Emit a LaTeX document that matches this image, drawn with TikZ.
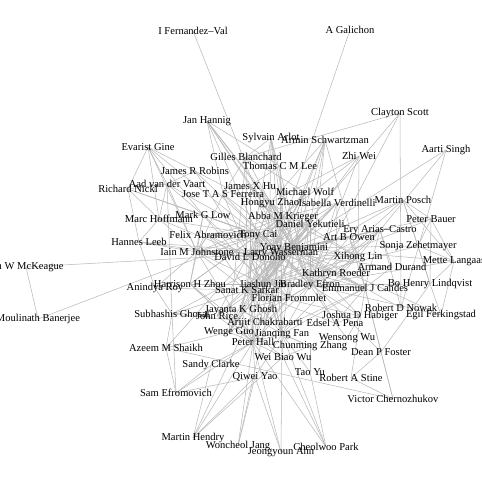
\documentclass[tikz,border=0pt]{standalone}
\usepackage{fontspec}
\setmainfont{Liberation Serif}
\usetikzlibrary{backgrounds}

\begin{document}
\begin{tikzpicture}[
    x=0.03cm, y=-0.03cm,
    author/.style={font=\fontsize{9}{10}\selectfont, inner sep=0pt},
    edge/.style={draw=black!28, line width=0.45pt},
  ]
    \useasboundingbox (0,0) rectangle (482,482);
    % outer ring
    \node[author] (fv)   at (193,31)  {I Fernandez–Val};
    \node[author] (gal)  at (350,30)  {A Galichon};
    \node[author] (han)  at (207,121) {Jan Hannig};
    \node[author] (sco)  at (400,113) {Clayton Scott};
    \node[author] (gin)  at (148,147) {Evarist Gine};
    \node[author] (sin)  at (446,150) {Aarti Singh};
    \node[author] (arl)  at (271,138) {Sylvain Arlot};
    \node[author] (sch)  at (325,140) {Armin Schwartzman};
    \node[author] (bla)  at (246,157) {Gilles Blanchard};
    \node[author] (lee)  at (280,166) {Thomas C M Lee};
    \node[author] (wei)  at (359,156) {Zhi Wei};
    \node[author] (rob)  at (195,171) {James R Robins};
    \node[author] (vaa)  at (167,184) {Aad van der Vaart};
    \node[author] (nic)  at (128,189) {Richard Nickl};
    \node[author] (hu)   at (250,186) {James X Hu};
    \node[author] (fer)  at (223,194) {Jose T A S Ferreira};
    \node[author] (wol)  at (305,192) {Michael Wolf};
    \node[author] (zha)  at (270,203) {Hongyu Zhao};
    \node[author] (ver)  at (337,203) {Isabella Verdinelli};
    \node[author] (pos)  at (403,200) {Martin Posch};
    \node[author] (hof)  at (159,219) {Marc Hoffmann};
    \node[author] (low)  at (203,215) {Mark G Low};
    \node[author] (kri)  at (283,217) {Abba M Krieger};
    \node[author] (yek)  at (310,224) {Daniel Yekutieli};
    \node[author] (bau)  at (431,219) {Peter Bauer};
    \node[author] (ari)  at (380,230) {Ery Arias–Castro};
    \node[author] (leeb) at (139,242) {Hannes Leeb};
    \node[author] (abr)  at (208,235) {Felix Abramovich};
    \node[author] (cai)  at (258,235) {Tony Cai};
    \node[author] (owe)  at (349,237) {Art B Owen};
    \node[author] (zeh)  at (418,246) {Sonja Zehetmayer};
    \node[author] (ben)  at (294,248) {Yoav Benjamini};
    \node[author] (joh)  at (197,252) {Iain M Johnstone};
    \node[author] (was)  at (281,253) {Larry Wasserman};
    \node[author] (don)  at (250,257) {David L Donoho};
    \node[author] (lin)  at (358,257) {Xihong Lin};
    \node[author] (lan)  at (454,261) {Mette Langaas};
    \node[author] (dur)  at (392,267) {Armand Durand};
    \node[author] (mck)  at (26,267)  {Ian W McKeague};
    \node[author] (roe)  at (336,274) {Kathryn Roeder};
    \node[author] (ban)  at (38,319)  {Moulinath Banerjee};
    \node[author] (roy)  at (155,288) {Anindya Roy};
    \node[author] (zho)  at (190,284) {Harrison H Zhou};
    \node[author] (lind) at (430,284) {Bo Henry Lindqvist};
    \node[author] (can)  at (365,288) {Emmanuel J Candes};
    \node[author] (efr)  at (310,285) {Bradley Efron};
    \node[author] (jin)  at (263,284) {Jiashun Jin};
    \node[author] (sar)  at (247,290) {Sanat K Sarkar};
    \node[author] (fro)  at (289,298) {Florian Frommlet};
    \node[author] (gho)  at (172,314) {Subhashis Ghosal};
    \node[author] (jkg)  at (241,310) {Jayanta K Ghosh};
    \node[author] (ric)  at (217,316) {John Rice};
    \node[author] (now)  at (401,308) {Robert D Nowak};
    \node[author] (fek)  at (441,315) {Egil Ferkingstad};
    \node[author] (hab)  at (360,316) {Joshua D Habiger};
    \node[author] (cha)  at (265,323) {Arijit Chakrabarti};
    \node[author] (pen)  at (335,323) {Edsel A Pena};
    \node[author] (guo)  at (229,332) {Wenge Guo};
    \node[author] (fan)  at (282,334) {Jianqing Fan};
    \node[author] (hal)  at (253,342) {Peter Hall};
    \node[author] (wu)   at (347,338) {Wensong Wu};
    \node[author] (czh)  at (310,346) {Chunming Zhang};
    \node[author] (sha)  at (166,348) {Azeem M Shaikh};
    \node[author] (fos)  at (381,352) {Dean P Foster};
    \node[author] (wbw)  at (283,357) {Wei Biao Wu};
    \node[author] (cla)  at (211,365) {Sandy Clarke};
    \node[author] (yao)  at (255,377) {Qiwei Yao};
    \node[author] (yu)   at (310,372) {Tao Yu};
    \node[author] (sti)  at (351,378) {Robert A Stine};
    \node[author] (efm)  at (176,393) {Sam Efromovich};
    \node[author] (che)  at (393,399) {Victor Chernozhukov};
    \node[author] (hen)  at (193,438) {Martin Hendry};
    \node[author] (jan)  at (238,446) {Woncheol Jang};
    \node[author] (ahn)  at (281,452) {Jeongyoun Ahn};
    \node[author] (par)  at (326,447) {Cheolwoo Park};
    % coauthor links
    \begin{scope}[on background layer]
    \foreach \a/\b in {fv/was, gal/jin,
        han/lee, han/hu, han/zha, han/kri, han/cai, han/ben, han/fer,
        sco/was, sco/efr, sco/now, sco/bla,
        gin/nic, gin/vaa, gin/hof, gin/low, gin/cai, gin/joh, gin/rob,
        sin/now, sin/was, sin/ari,
        arl/bla, arl/kri, arl/ben, arl/was, arl/zha, arl/don, arl/efr,
        sch/ben, sch/efr, sch/lin, sch/zha, sch/was, sch/yek, sch/jin,
        bla/sar, bla/ben, bla/guo, bla/fer, bla/wol,
        lee/hu, lee/was, lee/fan, lee/kri,
        wei/zha, wei/cai, wei/lin, wei/jin, wei/efr,
        rob/vaa, rob/was, rob/lin, rob/don,
        vaa/nic, vaa/gho, vaa/hof, vaa/joh, vaa/low, vaa/cai,
        nic/hof, nic/leeb, nic/low, nic/cai,
        hu/fer, hu/zha, hu/ben, hu/kri, hu/was,
        fer/ben, fer/joh, fer/efr, fer/don,
        wol/sha, wol/guo, wol/sar, wol/ben, wol/kri, wol/efr,
        zha/lin, zha/cai, zha/jin, zha/was, zha/efr,
        ver/was, ver/ben, ver/kri, ver/jin, ver/roe,
        pos/bau, pos/zeh, pos/lind, pos/lan, pos/ben, pos/sar, pos/efr,
        hof/leeb, hof/low, hof/joh, hof/cai, hof/don,
        low/cai, low/don, low/joh, low/zho, low/jin,
        kri/ben, kri/yek, kri/sar, kri/efr,
        yek/ben, yek/sar, yek/efr, yek/was, yek/guo,
        bau/zeh, bau/lan, bau/lind, bau/ben, bau/sar,
        ari/can, ari/don, ari/dur, ari/lin, ari/was, ari/jin,
        leeb/joh, leeb/was, leeb/roy, leeb/don,
        abr/ben, abr/don, abr/joh, abr/sar, abr/fro, abr/cai,
        cai/jin, cai/don, cai/hal, cai/fan, cai/zho, cai/was, cai/ben, cai/sar,
        owe/efr, owe/was, owe/ben, owe/don,
        zeh/lan, zeh/lind, zeh/ben, zeh/sar,
        ben/don, ben/joh, ben/sar, ben/efr, ben/guo, ben/was, ben/fro,
        ben/jin, ben/can, ben/gho,
        joh/don, joh/zho, joh/was, joh/jin, joh/sar,
        was/roe, was/efr, was/sar, was/can, was/don, was/jin, was/hal, was/jan,
        don/jin, don/can, don/hal, don/efr, don/sar,
        lin/roe, lin/efr, lin/can, lin/fan,
        lan/lind, lan/fek, lan/efr, lan/ben,
        dur/can, dur/roe, dur/was,
        mck/was, mck/ban, ban/cai,
        roy/gho, roy/joh, roy/sar,
        zho/wbw, zho/cai, zho/hal, zho/jin,
        lind/fek, lind/efr, lind/fos,
        can/efr, can/now, can/fos, can/hal,
        efr/jin, efr/fro, efr/sar, efr/fek,
        jin/hal, jin/fan, jin/sar, jin/ric,
        sar/guo, sar/cha, sar/jkg, sar/fro, sar/hab, sar/pen,
        fro/cha, fro/jkg,
        gho/jkg, gho/cha, gho/sha, jkg/cha,
        ric/cai, ric/hal, ric/was,
        now/ari, fek/ben,
        hab/pen, hab/wu, hab/ben,
        cha/ben, pen/wu, pen/ben,
        guo/sha, guo/hal,
        fan/yao, fan/czh, fan/hal, fan/wbw, fan/yu, fan/ahn, fan/par,
        hal/cla, hal/par, hal/jan, hal/yao, hal/wbw, hal/ahn, hal/hen,
        czh/yu, czh/wbw,
        sha/che, sha/efm,
        fos/sti, fos/che, fos/was,
        wbw/par, cla/efm, cla/hen,
        yao/efm, yao/jan, yao/ahn, yao/hen,
        yu/par, sti/che, sti/can, che/can,
        efm/hal, efm/gho, hen/was, hen/wbw,
        % extra ties in the dense core
        cai/efr, cai/can, cai/kri, cai/yek, cai/fro, cai/jkg, cai/low,
        jin/kri, jin/yek, jin/fro, jin/cha, jin/can, jin/lin, jin/roe,
        don/kri, don/yek, don/fro, don/zha, don/hu, don/ver, don/owe,
        was/kri, was/fro, was/cha, was/lin, was/owe, was/guo, was/jkg,
        ben/roe, ben/lin, ben/hal, ben/fan, ben/ver, ben/ari, ben/cha,
        efr/hal, efr/fan, efr/roe, efr/ari, efr/guo, efr/pen, efr/hab,
        sar/hal, sar/fan, sar/jkg, sar/ric, sar/gho, sar/was,
        fan/zha, fan/cai, fan/czh, fan/was, fan/don, fan/jkg,
        hal/don, hal/fro, hal/jkg, hal/zho,
        joh/kri, joh/cai, joh/abr, joh/hal, zha/kri, zha/ben,
        kri/abr, yek/abr, yek/fro, wol/was, ver/efr, owe/can, roe/can,
        lin/owe, ari/roe, can/pen, can/fan}
      \draw[edge] (\a.center) -- (\b.center);
    \end{scope}
\end{tikzpicture}
\end{document}
